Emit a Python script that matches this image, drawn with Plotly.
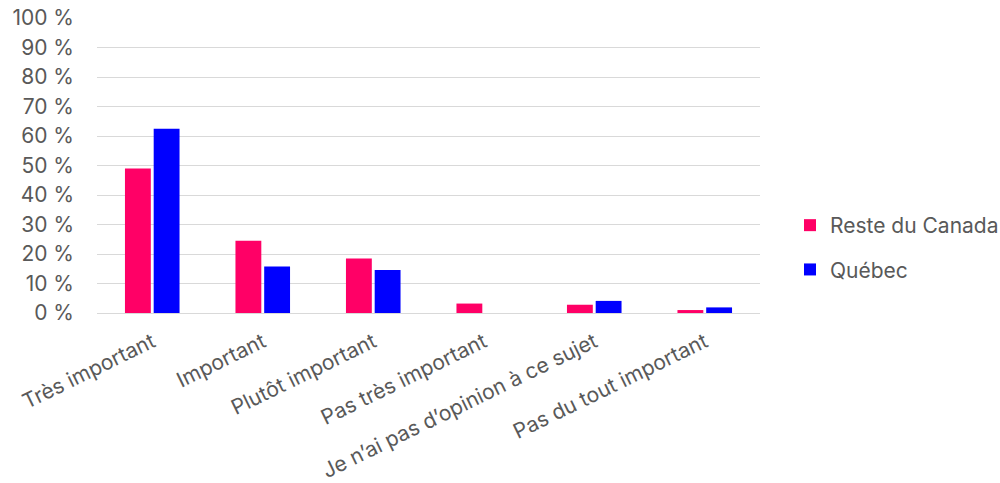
import plotly.graph_objects as go

categories = ["Très important", "Important", "Plutôt important", "Pas très important",
              "Je n’ai pas d’opinion à ce sujet", "Pas du tout important"]
reste_du_canada = [49, 24.5, 18.5, 3.2, 2.8, 1]
quebec = [62.5, 15.8, 14.6, 0, 4.1, 1.9]
y_ticks = list(range(0, 101, 10))
y_tick_labels = [f"{v} %" for v in y_ticks]

fig = go.Figure()
fig.add_trace(go.Bar(x=categories, y=reste_du_canada, name="Reste du Canada",
                     marker=dict(color="#FF0066", line=dict(width=0)),
                     legendgroup="a"))
fig.add_trace(go.Bar(x=categories, y=quebec, name="Québec",
                     marker=dict(color="#0000FF", line=dict(width=0)),
                     legendgroup="b"))

font_family = "Inter"
fs = 21
fig.update_layout(
    width=1000, height=483,
    margin=dict(l=97, r=240, t=18, b=170),
    plot_bgcolor="white", paper_bgcolor="white",
    barmode="group", bargap=0.48, bargroupgap=0.1,
    font=dict(family=font_family, size=fs, color="#595959"),
    showlegend=True,
    legend=dict(xref="container", yref="container", x=0.79, xanchor="left",
                y=(483 - 247.5) / 483, yanchor="middle",
                font=dict(size=fs, color="#595959"), tracegroupgap=14,
                itemwidth=30),
    xaxis=dict(tickangle=-26, showgrid=False, showline=False, ticks="",
               automargin=False, ticklabelstandoff=12,
               tickfont=dict(size=21, color="#595959")),
    yaxis=dict(range=[0, 100], tickvals=y_ticks, ticktext=y_tick_labels,
               showgrid=True, gridcolor="#D9D9D9", gridwidth=1.3,
               zeroline=True, zerolinecolor="#D9D9D9", zerolinewidth=1.3,
               ticks="", ticklabelstandoff=22, automargin=False,
               tickfont=dict(size=fs, color="#595959")),
)

fig.write_html("out.html")
